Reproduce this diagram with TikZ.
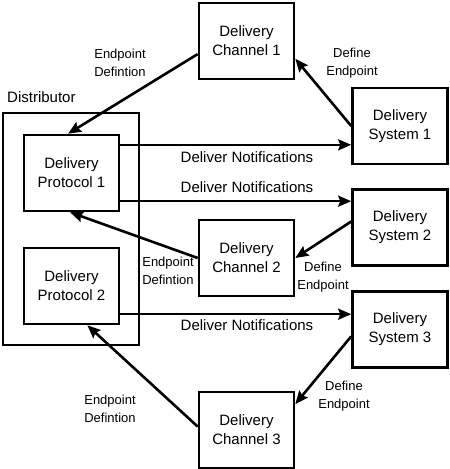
\documentclass[tikz,border=0pt]{standalone}
\usepackage{fontspec}
\setmainfont{Liberation Sans}
\usetikzlibrary{positioning,arrows.meta,calc}

\begin{document}
\begin{tikzpicture}[
  x=1pt, y=-1pt,
  box/.style={draw, line width=2.6pt, align=center, minimum width=95pt, minimum height=76pt, inner sep=2pt, font=\fontsize{15}{19}\selectfont},
  lbl/.style={align=center, inner sep=1pt, font=\fontsize{13}{18}\selectfont},
  msg/.style={inner sep=1pt, font=\fontsize{15}{18}\selectfont},
  arr/.style={line width=2.6pt, -{Stealth[length=13pt, width=11pt, inset=2pt]}}
]
% Page is 450 x 469, units are pixels of the original layout
\useasboundingbox (0,0) rectangle (450,469);

% Column x-positions (centres)
\def\cA{71.5}
\def\cB{246.5}
\def\cC{400}

% Distributor frame
\node[draw, line width=2.6pt, minimum width=136pt, minimum height=232pt] (dist) at (71,229) {};
\node[msg, anchor=west] (distlbl) at (6,97) {Distributor};

% Protocols inside the distributor
\node[box] (p1) at (\cA,173) {Delivery\\Protocol 1};
\node[box] (p2) at (\cA,286) {Delivery\\Protocol 2};

% Channels (middle column)
\node[box] (ch1) at (\cB,41) {Delivery\\Channel 1};
\node[box] (ch2) at (\cB,258) {Delivery\\Channel 2};
\node[box] (ch3) at (\cB,430) {Delivery\\Channel 3};

% Systems (right column)
\node[box] (sys1) at (\cC,126) {Delivery\\System 1};
\node[box] (sys2) at (\cC,227.5) {Delivery\\System 2};
\node[box] (sys3) at (\cC,329.5) {Delivery\\System 3};

% Endpoint definitions, channel -> protocol
\draw[arr] (ch1.195) -- (p1.95);
\draw[arr] (ch2.west) -- (p1.268);
\draw[arr] (ch3.176) -- (p2.292);
\node[lbl] (ed1) at (120,63) {Endpoint\\Defintion};
\node[lbl] (ed2) at (168,271) {Endpoint\\Defintion};
\node[lbl] (ed3) at (110,409) {Endpoint\\Defintion};

% Define endpoint, system -> channel
\draw[arr] (sys1.west) -- (ch1.-20);
\draw[arr] (sys2.173) -- (ch2.east);
\draw[arr] (sys3.188) -- (ch3.28);
\node[lbl] (de1) at (352,63) {Define\\Endpoint};
\node[lbl] (de2) at (323,277) {Define\\Endpoint};
\node[lbl] (de3) at (344,396) {Define\\Endpoint};

% Notifications, protocol -> system
\draw[arr] (p1.30) -- (p1.30 -| sys1.west);
\draw[arr] (p1.-30) -- (p1.-30 -| sys2.west);
\draw[arr] (p2.-30) -- (p2.-30 -| sys3.west);
\node[msg] (dn1) at (247,157) {Deliver Notifications};
\node[msg] (dn2) at (247,187) {Deliver Notifications};
\node[msg] (dn3) at (247,325) {Deliver Notifications};

\end{tikzpicture}
\end{document}
